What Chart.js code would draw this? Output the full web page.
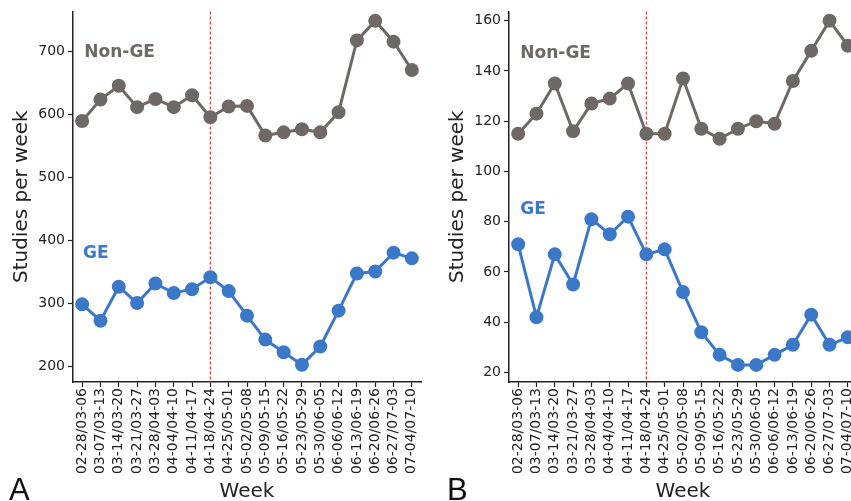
<!DOCTYPE html>
<html>
<head>
<meta charset="utf-8">
<script src="https://cdn.jsdelivr.net/npm/chart.js@4.4.0/dist/chart.umd.min.js"></script>
<style>
  html, body { margin: 0; padding: 0; background: #fff; overflow: hidden; }
  #wrap { position: relative; width: 851px; height: 501px; overflow: hidden; background: #fff; }
  canvas { position: absolute; top: 0; }
  #chartA { left: 0; }
  #chartB { left: 436px; }
  .panel { position: absolute; font-family: "Liberation Sans", Arial, sans-serif; font-size: 31px; line-height: 1; color: #111; }
</style>
</head>
<body>
<div id="wrap">
  <canvas id="chartA" width="430" height="512"></canvas>
  <canvas id="chartB" width="436" height="512"></canvas>
  <div class="panel" style="left:9px; top:474px;">A</div>
  <div class="panel" style="left:447px; top:474px;">B</div>
</div>
<script>
const weeks = ['02-28/03-06', '03-07/03-13', '03-14/03-20', '03-21/03-27', '03-28/04-03',
  '04-04/04-10', '04-11/04-17', '04-18/04-24', '04-25/05-01', '05-02/05-08', '05-09/05-15',
  '05-16/05-22', '05-23/05-29', '05-30/06-05', '06-06/06-12', '06-13/06-19', '06-20/06-26',
  '06-27/07-03', '07-04/07-10']

// panel A
const nonGeA = [589, 623, 645, 611, 624, 611, 630, 595, 612, 613, 566, 571, 576, 571, 603, 717, 748, 715, 670]
const geA = [298, 272, 326, 300, 331, 316, 322, 341, 319, 280, 242, 222, 202, 231, 288, 347, 350, 380, 371]
const ticksA = [200, 300, 400, 500, 600, 700]

// panel B
const nonGeB = [115, 123, 135, 116, 127, 129, 135, 115, 115, 137, 117, 113, 117, 120, 119, 136, 148, 160, 150]
const geB = [71, 42, 67, 55, 81, 75, 82, 67, 69, 52, 36, 27, 23, 23, 27, 31, 43, 31, 34]
const ticksB = [20, 40, 60, 80, 100, 120, 140, 160]

const markWeek = '04-18/04-24'

const GREY = '#6e6866'
const BLUE = '#3b78c8'
const INK = '#222'

// red dashed marker line + the series names written in the plot
const overlay = {
    id: 'overlay',
    beforeDatasetsDraw(chart) {
        const {ctx, chartArea, scales} = chart
        const x = scales.x.getPixelForValue(weeks.indexOf(markWeek))
        ctx.save()
        ctx.strokeStyle = '#e03a30'
        ctx.lineWidth = 1.2
        ctx.setLineDash([3, 2])
        ctx.beginPath()
        ctx.moveTo(x, chartArea.top)
        ctx.lineTo(x, chartArea.bottom)
        ctx.stroke()
        ctx.restore()
    },
    afterDatasetsDraw(chart, args, opts) {
        const {ctx, scales} = chart
        ctx.save()
        ctx.font = 'bold 17px "DejaVu Sans"'
        ctx.textBaseline = 'middle'
        ctx.textAlign = 'left'
        opts.labels.forEach(l => {
            ctx.fillStyle = l.color
            ctx.fillText(l.text, scales.x.getPixelForValue(l.x), scales.y.getPixelForValue(l.y))
        })
        ctx.restore()
    }
}

const series = (data, color) => ({
    data,
    borderColor: color,
    backgroundColor: color,
    pointBackgroundColor: color,
    pointBorderColor: color,
    borderWidth: 3,
    pointRadius: 5.5,
    pointHoverRadius: 5.5,
    tension: 0
})

const makeChart = (id, nonGe, ge, yMin, yMax, yTicks, labels, padRight) => {
    new Chart(document.getElementById(id), {
        type: 'line',
        data: {
            labels: weeks,
            datasets: [series(nonGe, GREY), series(ge, BLUE)]
        },
        options: {
            responsive: false,
            animation: false,
            events: [],
            layout: {padding: {top: 10, right: padRight, left: 0, bottom: 0}},
            plugins: {
                legend: {display: false},
                tooltip: {enabled: false},
                overlay: {labels}
            },
            scales: {
                x: {
                    type: 'category',
                    offset: true,
                    afterFit: s => { s.height = 130 },
                    grid: {drawOnChartArea: false, offset: false, tickLength: 5, color: INK, tickWidth: 1.2},
                    border: {display: true, color: INK, width: 1.5},
                    ticks: {
                        autoSkip: false, minRotation: 90, maxRotation: 90, padding: 1,
                        color: INK, font: {family: 'DejaVu Sans', size: 14}
                    },
                    title: {
                        display: true, text: 'Week', color: INK,
                        font: {family: 'DejaVu Sans', size: 20},
                        padding: {top: 8, bottom: 8}
                    }
                },
                y: {
                    min: yMin,
                    max: yMax,
                    afterFit: s => { s.width = 73 },
                    afterBuildTicks: s => { s.ticks = yTicks.map(v => ({value: v})) },
                    grid: {drawOnChartArea: false, tickLength: 5, color: INK, tickWidth: 1.2},
                    border: {display: true, color: INK, width: 1.5},
                    ticks: {padding: 3, color: INK, font: {family: 'DejaVu Sans', size: 14}},
                    title: {
                        display: true, text: 'Studies per week', color: INK,
                        font: {family: 'DejaVu Sans', size: 20},
                        padding: {top: 10, bottom: 10}
                    }
                }
            }
        },
        plugins: [overlay]
    })
}

makeChart('chartA', nonGeA, geA, 174.7, 763, ticksA, [
    {text: 'Non-GE', x: 0.12, y: 697, color: GREY},
    {text: 'GE', x: 0.05, y: 378, color: BLUE}
], 9)

makeChart('chartB', nonGeB, geB, 16.2, 163.7, ticksB, [
    {text: 'Non-GE', x: 0.12, y: 147, color: GREY},
    {text: 'GE', x: 0.12, y: 85, color: BLUE}
], 15)
</script>
</body>
</html>
